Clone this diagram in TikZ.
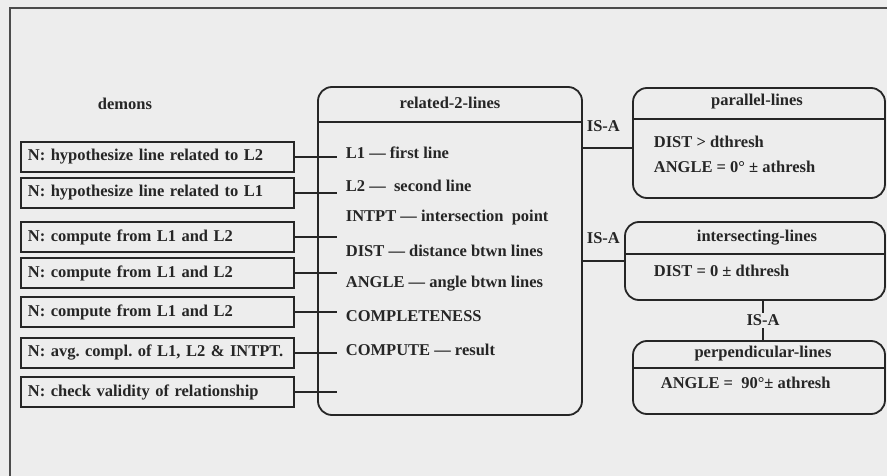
\documentclass[tikz,border=0pt]{standalone}
\usepackage{fontspec}
\setmainfont{Liberation Serif}
\definecolor{ink}{HTML}{262626}
\definecolor{paper}{HTML}{EDEDED}

\begin{document}
\frenchspacing
\begin{tikzpicture}[x=1pt, y=-1pt, line width=1.8pt, color=ink,
    every node/.style={font=\fontsize{16.5}{18}\selectfont\bfseries},
    demon/.style={draw, anchor=west, minimum width=273pt, minimum height=30pt,
        text width=259pt, inner xsep=7pt, align=left},
    frame/.style={draw, rounded corners=14pt, inner sep=0pt},
    slot/.style={anchor=west, inner sep=0pt}]
    \fill[paper] (0,0) rectangle (887,476);
    \useasboundingbox (0,0) rectangle (887,476);
    \draw[black!70, line width=2pt] (10,476) -- (10,8) -- (887,8);

    % demons on the left
    \node (demons) at (125,104) {demons};
    \foreach \y/\t [count=\i] in {157/{N: hypothesize line related to L2},
            193/{N: hypothesize line related to L1},
            237/{N: compute from L1 and L2},
            273/{N: compute from L1 and L2},
            312/{N: compute from L1 and L2},
            353/{N: avg. compl. of L1, L2 \& INTPT.},
            392/{N: check validity of relationship}}
        \node[demon] (d\i) at (20,\y) {\mbox{\t}};

    % the related-2-lines frame
    \node[frame, minimum width=264pt, minimum height=328pt] (rel) at (450,251) {};
    \node (relt) at (450,103) {related-2-lines};
    \draw (rel.west |- 0,122) -- (rel.east |- 0,122);
    \foreach \y/\t [count=\i] in {153/{L1 --- first line},
            186/{L2 ---\ \ second line},
            218/{INTPT --- intersection\ \ point},
            251/{DIST --- distance btwn lines},
            284/{ANGLE --- angle btwn lines},
            316/{COMPLETENESS},
            350/{COMPUTE --- result}}
        \node[slot] (s\i) at (345,\y) {\t};

    \coordinate (slotend) at (337,0);
    \foreach \i in {1,...,7}
        \draw (d\i.east) -- (d\i.east -| slotend);

    % parallel-lines
    \node[frame, minimum width=252pt, minimum height=110pt] (par) at (759,143) {};
    \node (part) at (757,102) {parallel-lines};
    \draw (par.west |- 0,119) -- (par.east |- 0,119);
    \node[slot] (par1) at (653,142) {DIST > dthresh};
    \node[slot] (par2) at (653,167) {ANGLE = 0° ± athresh};

    % intersecting-lines
    \node[frame, minimum width=260pt, minimum height=78pt] (int) at (755,261) {};
    \node (intt) at (757,238) {intersecting-lines};
    \draw (int.west |- 0,254) -- (int.east |- 0,254);
    \node[slot] (int1) at (653,271) {DIST = 0 ± dthresh};

    % perpendicular-lines
    \node[frame, minimum width=252pt, minimum height=73pt] (perp) at (759,377.5) {};
    \node (perpt) at (763,354) {perpendicular-lines};
    \draw (perp.west |- 0,368) -- (perp.east |- 0,368);
    \node[slot] (perp1) at (660,383) {ANGLE =\ \ 90°± athresh};

    % IS-A links
    \draw ([yshift=-5pt]par.west) -- ([yshift=-5pt]par.west -| rel.east);
    \node[slot] (isa1) at (586,126) {IS-A};
    \draw (int.west) -- (int.west -| rel.east);
    \node[slot] (isa2) at (586,238) {IS-A};
    \draw ([xshift=4pt]perp.north) -- ([xshift=4pt]perp.north |- int.south)
        node[midway, fill=paper, inner sep=2pt] (isa3) {IS-A};
\end{tikzpicture}
\end{document}
